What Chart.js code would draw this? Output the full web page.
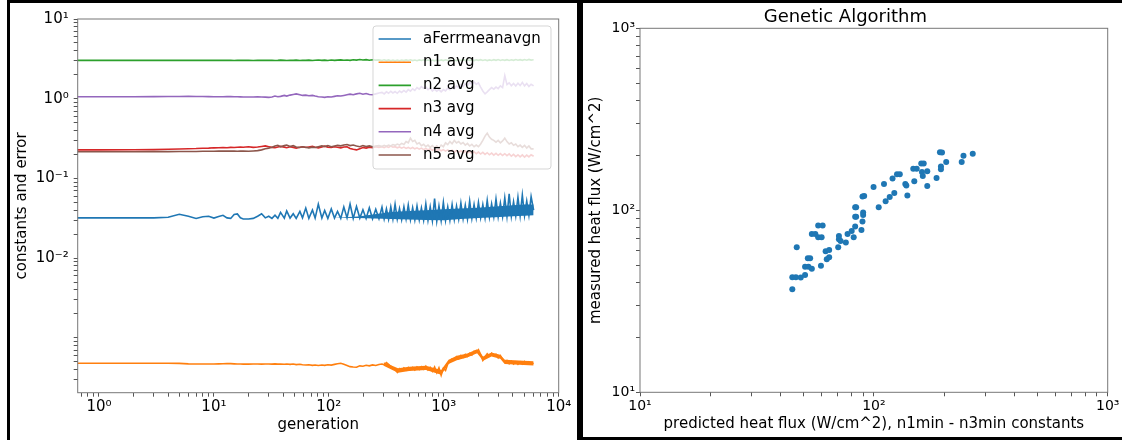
<!DOCTYPE html>
<html>
<head>
<meta charset="utf-8">
<script src="https://cdn.jsdelivr.net/npm/chart.js@4.4.0/dist/chart.umd.min.js"></script>
<style>
  html, body { margin: 0; padding: 0; background: #fff; }
  body { width: 1122px; height: 440px; position: relative; overflow: hidden; }
  .panel { position: absolute; box-sizing: border-box; border: 3px solid #000; }
  #leftPanel { left: 7px; top: 0; width: 573px; height: 470px; }
  #rightPanel { left: 580px; top: 0; width: 600px; height: 440px; }
  canvas { position: absolute; }
  #genChart { left: 10px; top: 3px; }
  #fluxChart { left: 583px; top: 3px; }
</style>
</head>
<body>
<div class="panel" id="leftPanel"></div>
<div class="panel" id="rightPanel"></div>
<canvas id="genChart" width="567" height="437"></canvas>
<canvas id="fluxChart" width="539" height="434"></canvas>
<script>
// generation numbers sampled along the run (shared by every left-hand series)
var generations = [
  0.5, 1, 2, 3, 4, 5, 6, 7, 8, 9,
  10, 11, 12, 13, 14, 15, 16, 17, 18, 20,
  22, 24, 26, 28, 30, 32, 34, 36, 38, 41,
  43, 46, 49, 52, 56, 59, 63, 67, 72, 76,
  81, 87, 92, 98, 105, 112, 119, 127, 135, 144,
  153, 163, 174, 186, 198, 211, 225, 240, 256, 273,
  290, 303, 317, 331, 346, 361, 377, 394, 412, 430,
  450, 470, 491, 513, 536, 560, 585, 612, 639, 668,
  698, 729, 762, 796, 832, 869, 908, 949, 992, 1036,
  1083, 1131, 1182, 1235, 1291, 1349, 1409, 1473, 1539, 1608,
  1680, 1756, 1835, 1917, 2003, 2093, 2187, 2286, 2388, 2496,
  2608, 2725, 2847, 2975, 3109, 3249, 3395, 3547, 3707, 3873,
  4047, 4229, 4420, 4618, 4826, 5043, 5270, 5506, 5754, 6050
];

var errAvg = [
  0.032, 0.032, 0.032, 0.032, 0.0325, 0.0355, 0.0335, 0.0315, 0.033, 0.0335,
  0.0318, 0.0332, 0.0345, 0.032, 0.0315, 0.0352, 0.0358, 0.032, 0.031, 0.031,
  0.0315, 0.0335, 0.036, 0.032, 0.0335, 0.0315, 0.0345, 0.0315, 0.0375, 0.0318,
  0.0392, 0.0318, 0.036, 0.0315, 0.0385, 0.032, 0.0425, 0.0315, 0.0402, 0.0318,
  0.0475, 0.0318, 0.0395, 0.0315, 0.0415, 0.0318, 0.0385, 0.0315, 0.0438, 0.032,
  0.0478, 0.0315, 0.0445, 0.0318, 0.0405, 0.0315, 0.0428, 0.0312, 0.041, 0.0312,
  0.0435, 0.031, 0.0415, 0.0308, 0.044, 0.031, 0.0475, 0.0308, 0.042, 0.0305,
  0.044, 0.031, 0.0465, 0.0305, 0.043, 0.0302, 0.045, 0.0302, 0.0425, 0.030,
  0.048, 0.0298, 0.044, 0.0295, 0.056, 0.0292, 0.045, 0.0295, 0.050, 0.0298,
  0.044, 0.030, 0.047, 0.0305, 0.045, 0.031, 0.049, 0.0312, 0.046, 0.031,
  0.052, 0.0315, 0.047, 0.032, 0.050, 0.0322, 0.047, 0.032, 0.053, 0.0325,
  0.048, 0.033, 0.055, 0.033, 0.049, 0.0332, 0.057, 0.0335, 0.064, 0.0335,
  0.051, 0.034, 0.058, 0.034, 0.062, 0.0342, 0.052, 0.0345, 0.059, 0.040
];

var n1Avg = [
  0.00048, 0.00048, 0.00048, 0.00048, 0.00048, 0.000478, 0.000472, 0.00047, 0.00047, 0.00047,
  0.00047, 0.000472, 0.000474, 0.000476, 0.000475, 0.000472, 0.00047, 0.00047, 0.000468, 0.000468,
  0.00047, 0.00047, 0.000468, 0.00047, 0.00047, 0.000468, 0.000472, 0.000468, 0.00047, 0.000466,
  0.00047, 0.000465, 0.000469, 0.000462, 0.000467, 0.00046, 0.000456, 0.00046, 0.000452, 0.000457,
  0.00045, 0.000456, 0.000452, 0.00046, 0.000455, 0.000465, 0.000472, 0.00048, 0.000465, 0.00045,
  0.000435, 0.00043, 0.000428, 0.000445, 0.00044, 0.000452, 0.000445, 0.000458, 0.00045, 0.000462,
  0.00047, 0.00046, 0.00049, 0.000465, 0.00044, 0.00042, 0.0004, 0.00037, 0.00041, 0.00039,
  0.00042, 0.000395, 0.000425, 0.0004, 0.000425, 0.000395, 0.00043, 0.0004, 0.000435, 0.000405,
  0.00044, 0.000395, 0.000425, 0.00038, 0.00043, 0.000365, 0.00042, 0.00034, 0.000415, 0.00039,
  0.00047, 0.00051, 0.000545, 0.00053, 0.00058, 0.000545, 0.0006, 0.00057, 0.00062, 0.000585,
  0.00064, 0.00061, 0.00068, 0.00066, 0.00071, 0.00062, 0.00052, 0.00058, 0.00063, 0.00059,
  0.00064, 0.0006, 0.00062, 0.00056, 0.0006, 0.00053, 0.00049, 0.00052, 0.000475, 0.00051,
  0.00047, 0.0005, 0.000465, 0.0005, 0.00047, 0.000505, 0.000475, 0.0005, 0.00047, 0.00048
];

var n2Avg = [
  3.03, 3.03, 3.03, 3.03, 3.03, 3.03, 3.03, 3.03, 3.03, 3.03,
  3.03, 3.03, 3.04, 3.03, 3.03, 3.02, 3.03, 3.03, 3.04, 3.03,
  3.02, 3.03, 3.04, 3.03, 3.03, 3.04, 3.02, 3.03, 3.05, 3.03,
  3.02, 3.04, 3.03, 3.05, 3.02, 3.04, 3.03, 3.05, 3.02, 3.04,
  3.06, 3.03, 3.05, 3.02, 3.06, 3.03, 3.05, 3.07, 3.04, 3.06,
  3.03, 3.08, 3.05, 3.10, 3.06, 3.09, 3.04, 3.08, 3.05, 3.07,
  3.02, 3.08, 3.01, 3.07, 3.00, 3.06, 2.99, 3.05, 3.00, 3.06,
  3.01, 3.07, 3.02, 3.08, 3.01, 3.06, 3.00, 3.07, 3.02, 3.08,
  3.01, 3.06, 3.00, 3.05, 2.99, 3.06, 3.00, 3.07, 3.01, 3.08,
  3.02, 3.07, 3.00, 3.06, 3.01, 3.08, 3.02, 3.09, 3.03, 3.08,
  3.02, 3.07, 3.01, 3.08, 3.03, 3.09, 3.02, 3.08, 3.01, 3.07,
  3.02, 3.09, 3.03, 3.10, 3.02, 3.08, 3.03, 3.09, 3.02, 3.08,
  3.03, 3.10, 3.04, 3.09, 3.03, 3.10, 3.04, 3.11, 3.05, 3.08
];

var n3Avg = [
  0.228, 0.228, 0.229, 0.23, 0.232, 0.234, 0.236, 0.237, 0.239, 0.24,
  0.242, 0.243, 0.244, 0.243, 0.245, 0.244, 0.246, 0.247, 0.246, 0.25,
  0.245, 0.248, 0.252, 0.256, 0.25, 0.245, 0.243, 0.248, 0.252, 0.247,
  0.243, 0.25, 0.245, 0.24, 0.246, 0.25, 0.244, 0.248, 0.252, 0.246,
  0.242, 0.248, 0.254, 0.247, 0.244, 0.25, 0.246, 0.242, 0.248, 0.25,
  0.238, 0.232, 0.228, 0.236, 0.244, 0.24, 0.247, 0.243, 0.25, 0.245,
  0.25, 0.243, 0.252, 0.245, 0.254, 0.246, 0.25, 0.242, 0.248, 0.24,
  0.247, 0.238, 0.245, 0.236, 0.244, 0.235, 0.242, 0.233, 0.24, 0.23,
  0.238, 0.228, 0.236, 0.226, 0.234, 0.224, 0.232, 0.222, 0.23, 0.22,
  0.228, 0.218, 0.226, 0.215, 0.224, 0.213, 0.222, 0.21, 0.22, 0.208,
  0.218, 0.206, 0.216, 0.204, 0.214, 0.202, 0.212, 0.2, 0.21, 0.198,
  0.208, 0.196, 0.206, 0.195, 0.205, 0.194, 0.204, 0.193, 0.203, 0.19,
  0.2, 0.188, 0.198, 0.186, 0.197, 0.185, 0.196, 0.186, 0.198, 0.19
];

var n4Avg = [
  1.06, 1.06, 1.06, 1.062, 1.065, 1.068, 1.07, 1.068, 1.065, 1.063,
  1.06, 1.058, 1.06, 1.062, 1.065, 1.06, 1.058, 1.055, 1.052, 1.05,
  1.052, 1.055, 1.05, 1.048, 1.04, 1.05, 1.08, 1.06, 1.07, 1.1,
  1.08, 1.11, 1.13, 1.15, 1.12, 1.1, 1.11, 1.09, 1.1, 1.08,
  1.06, 1.05, 1.04, 1.06, 1.05, 1.07, 1.09, 1.08, 1.1, 1.12,
  1.14, 1.12, 1.15, 1.17, 1.14, 1.16, 1.13, 1.12, 1.15, 1.18,
  1.2, 1.15, 1.22, 1.17, 1.24, 1.18, 1.23, 1.17, 1.25, 1.2,
  1.27, 1.21, 1.3, 1.24, 1.33, 1.27, 1.38, 1.32, 1.42, 1.35,
  1.4, 1.3, 1.36, 1.25, 1.32, 1.24, 1.3, 1.22, 1.3, 1.25,
  1.36, 1.3, 1.4, 1.33, 1.45, 1.38, 1.5, 1.42, 1.55, 1.46,
  1.6, 1.5, 1.62, 1.52, 1.58, 1.4, 1.25, 1.15, 1.22, 1.3,
  1.38, 1.32, 1.4, 1.34, 1.45, 1.38, 1.95, 1.5, 1.58, 1.45,
  1.55, 1.44, 1.56, 1.46, 1.6, 1.45, 1.55, 1.42, 1.52, 1.45
];

var n5Avg = [
  0.216, 0.216, 0.216, 0.217, 0.217, 0.218, 0.218, 0.218, 0.219, 0.219,
  0.219, 0.22, 0.22, 0.22, 0.221, 0.22, 0.219, 0.22, 0.22, 0.219,
  0.221, 0.223, 0.228, 0.235, 0.24, 0.246, 0.255, 0.26, 0.25, 0.258,
  0.262, 0.252, 0.258, 0.248, 0.244, 0.25, 0.246, 0.242, 0.247, 0.244,
  0.25, 0.256, 0.252, 0.258, 0.25, 0.255, 0.26, 0.256, 0.262, 0.266,
  0.258, 0.262, 0.255, 0.25, 0.258, 0.252, 0.256, 0.25, 0.255, 0.258,
  0.252, 0.26, 0.254, 0.262, 0.256, 0.266, 0.26, 0.27, 0.262, 0.275,
  0.266, 0.29, 0.28, 0.32, 0.29, 0.3, 0.27, 0.28, 0.258, 0.268,
  0.25, 0.262, 0.245, 0.258, 0.242, 0.256, 0.24, 0.262, 0.25, 0.28,
  0.265, 0.29, 0.272, 0.3, 0.278, 0.29, 0.27, 0.282, 0.262, 0.275,
  0.255, 0.268, 0.25, 0.262, 0.25, 0.27, 0.3, 0.34, 0.37, 0.33,
  0.31, 0.3, 0.285, 0.3, 0.28, 0.295, 0.32, 0.29, 0.27, 0.28,
  0.26, 0.27, 0.25, 0.262, 0.245, 0.26, 0.24, 0.255, 0.235, 0.235
];

// envelope of the dense part of the noisy traces (too many generations to show one by one)
var errBandGen  = [110, 180, 250, 350, 500, 700, 1000, 1400, 2000, 2800, 4000, 5000, 6050];
var errBandLow  = [0.032, 0.0318, 0.0315, 0.031, 0.0305, 0.030, 0.0298, 0.031, 0.0318, 0.0325, 0.0335, 0.034, 0.0345];
var errBandHigh = [0.0322, 0.0332, 0.0355, 0.038, 0.039, 0.040, 0.041, 0.042, 0.043, 0.0445, 0.046, 0.047, 0.047];

var n1BandGen  = [300, 400, 500, 700, 950, 1100, 1300, 1600, 1950, 2200, 2600, 3100, 3400, 4500, 6050];
var n1BandLow  = [0.000445, 0.000365, 0.000385, 0.000395, 0.000345, 0.00047, 0.000525, 0.000565, 0.00064, 0.000515, 0.000585, 0.000545, 0.00047, 0.00046, 0.00045];
var n1BandHigh = [0.000495, 0.000415, 0.000435, 0.000445, 0.000395, 0.00053, 0.000595, 0.000635, 0.00072, 0.000585, 0.000655, 0.000615, 0.00053, 0.00052, 0.00051];

var seriesNames = ['aFerrmeanavgn', 'n1 avg', 'n2 avg', 'n3 avg', 'n4 avg', 'n5 avg'];
var seriesValues = [errAvg, n1Avg, n2Avg, n3Avg, n4Avg, n5Avg];
var seriesColors = ['#1f77b4', '#ff7f0e', '#2ca02c', '#d62728', '#9467bd', '#8c564b'];

// scatter: predicted vs measured heat flux (W/cm^2)
var predictedFlux = [
  44.8, 44.8, 46.4, 46.8, 48.7, 50.8, 50.8, 52.5, 54.3, 52.2,
  53.4, 54.3, 56.2, 57.8, 57.8, 60.4, 59.8, 59.4, 62.2, 64.4,
  62.9, 64.4, 70.4, 70.9, 70.9, 72.1, 75.9, 77.2, 80.4, 82.0,
  83.2, 83.2, 83.2, 84.0, 84.0, 88.5, 89.4, 90.0, 90.0, 89.4,
  90.9, 99.7, 104.9, 110.5, 112.3, 116.9, 120.2, 122.3, 125.6, 129.1,
  136.3, 137.7, 139.1, 148.9, 147.4, 152.5, 159.5, 163.4, 160.6, 161.9,
  169.2, 169.2, 185.4, 191.7, 195.6, 193.6, 193.6, 203.9, 237.5, 241.7,
  264.8
];
var measuredFlux = [
  36.8, 42.9, 42.9, 62.7, 42.8, 44.1, 49.0, 49.0, 47.7, 54.5,
  54.5, 74.1, 74.1, 71.1, 82.4, 82.4, 71.1, 49.6, 59.5, 60.5,
  53.8, 55.2, 62.7, 69.3, 72.3, 67.9, 66.6, 74.1, 76.9, 71.1,
  81.4, 92.3, 103.8, 103.8, 92.3, 77.9, 86.7, 94.2, 97.4, 118.9,
  119.9, 134.4, 103.8, 139.6, 112.0, 118.3, 149.3, 124.4, 157.8, 157.8,
  139.6, 136.8, 120.5, 144.3, 169.3, 169.3, 180.5, 180.5, 162.6, 154.4,
  163.7, 136.2, 150.7, 208.5, 207.6, 173.8, 168.0, 184.4, 184.4, 199.1,
  204.7
];

// which decades get a 10^n label
var genXPowers = [0, 1, 2, 3, 4];
var genYPowers = [1, 0, -1, -2];
var fluxPowers = [1, 2, 3];
var minorSteps = [2, 3, 4, 5, 6, 7, 8, 9];

Chart.defaults.font.family = '"DejaVu Sans", sans-serif';
Chart.defaults.color = '#000';

var supDigits = { '-': '\u207b', '0': '\u2070', '1': '\u00b9', '2': '\u00b2', '3': '\u00b3', '4': '\u2074' };

function logTicks(min, max) {
  var out = [];
  var lo = Math.floor(Math.log10(min)), hi = Math.ceil(Math.log10(max));
  for (var e = lo; e <= hi; e++) {
    var base = Math.pow(10, e);
    [1].concat(minorSteps).forEach(function (m) {
      var v = m * base;
      if (v >= min * 0.999 && v <= max * 1.001) out.push({ value: v, major: m === 1 });
    });
  }
  return out;
}

function powerLabel(powers) {
  return function (value, index, ticks) {
    if (!ticks[index].major) return '';
    var e = Math.round(Math.log10(value));
    if (powers.indexOf(e) < 0) return '';
    return '10' + String(e).split('').map(function (c) { return supDigits[c]; }).join('');
  };
}

function logAxis(opts) {
  return {
    type: 'logarithmic',
    min: opts.min,
    max: opts.max,
    afterBuildTicks: function (s) { s.ticks = logTicks(s.min, s.max); },
    afterFit: opts.fit,
    ticks: { autoSkip: false, maxRotation: 0, padding: opts.pad, font: { size: opts.tickSize }, callback: powerLabel(opts.powers) },
    grid: { drawOnChartArea: false, tickLength: 4, color: '#555' },
    border: { display: false },
    title: { display: true, text: opts.title, font: { size: 15 }, padding: opts.titlePad }
  };
}

// matplotlib-like full box around the plot area
var framePlugin = {
  id: 'frame',
  afterDatasetsDraw: function (chart) {
    var a = chart.chartArea, ctx = chart.ctx;
    ctx.save();
    ctx.strokeStyle = '#777';
    ctx.lineWidth = 1;
    ctx.strokeRect(a.left, a.top, a.right - a.left, a.bottom - a.top);
    ctx.restore();
  }
};

// semi transparent legend box in the upper right corner
var boxLegend = {
  id: 'boxLegend',
  afterDraw: function (chart) {
    var a = chart.chartArea, ctx = chart.ctx;
    var w = 178, h = 143;
    var x = a.right - 7.7 - w, y = a.top + 7;
    ctx.save();
    ctx.beginPath();
    if (ctx.roundRect) ctx.roundRect(x, y, w, h, 3); else ctx.rect(x, y, w, h);
    ctx.fillStyle = 'rgba(255,255,255,0.8)';
    ctx.fill();
    ctx.strokeStyle = 'rgba(204,204,204,0.8)';
    ctx.lineWidth = 1;
    ctx.stroke();
    ctx.font = '15px "DejaVu Sans"';
    ctx.textBaseline = 'middle';
    chart.data.datasets.filter(function (ds) {
      return seriesNames.indexOf(ds.label) >= 0;
    }).forEach(function (ds, i) {
      var ry = y + 13 + i * 23.2;
      ctx.strokeStyle = ds.borderColor;
      ctx.lineWidth = 1.6;
      ctx.beginPath();
      ctx.moveTo(x + 5.6, ry);
      ctx.lineTo(x + 38, ry);
      ctx.stroke();
      ctx.fillStyle = '#000';
      ctx.fillText(ds.label, x + 50, ry);
    });
    ctx.restore();
  }
};

var lineSets = seriesNames.map(function (name, i) {
  return {
    label: name,
    data: generations.map(function (g, k) { return { x: g, y: seriesValues[i][k] }; }),
    borderColor: seriesColors[i],
    backgroundColor: seriesColors[i],
    borderWidth: 1.6,
    pointRadius: 0,
    tension: 0,
    order: seriesNames.length - i
  };
});

function bandSet(label, xs, ys, color, fillTo) {
  return {
    label: label,
    data: xs.map(function (g, k) { return { x: g, y: ys[k] }; }),
    borderColor: color,
    backgroundColor: color,
    borderWidth: 0,
    pointRadius: 0,
    tension: 0,
    fill: fillTo === undefined ? false : { target: fillTo },
    order: 20
  };
}

// indices 6..9 follow the six named series
lineSets.push(bandSet('errBandLow', errBandGen, errBandLow, '#1f77b4'));
lineSets.push(bandSet('errBandHigh', errBandGen, errBandHigh, '#1f77b4', 6));
lineSets.push(bandSet('n1BandLow', n1BandGen, n1BandLow, '#ff7f0e'));
lineSets.push(bandSet('n1BandHigh', n1BandGen, n1BandHigh, '#ff7f0e', 8));

new Chart(document.getElementById('genChart'), {
  type: 'line',
  data: { datasets: lineSets },
  options: {
    responsive: false,
    animation: false,
    devicePixelRatio: 1,
    layout: { padding: { left: 0, top: 16, right: 18.3, bottom: 0 } },
    plugins: { legend: { display: false }, tooltip: { enabled: false } },
    scales: {
      x: logAxis({ min: 0.653, max: 10000, powers: genXPowers, tickSize: 15, pad: 1,
        title: 'generation', titlePad: { top: 0, bottom: 6 },
        fit: function (s) { s.height = 47.3; } }),
      y: logAxis({ min: 0.000205, max: 10, powers: genYPowers, tickSize: 15, pad: 5,
        title: 'constants and error', titlePad: { top: 3, bottom: 0 },
        fit: function (s) { s.width = 67.7; } })
    }
  },
  plugins: [framePlugin, boxLegend]
});

new Chart(document.getElementById('fluxChart'), {
  type: 'scatter',
  data: {
    datasets: [{
      label: 'measured vs predicted',
      data: predictedFlux.map(function (p, k) { return { x: p, y: measuredFlux[k] }; }),
      backgroundColor: '#1f77b4',
      borderWidth: 0,
      pointRadius: 3
    }]
  },
  options: {
    responsive: false,
    animation: false,
    devicePixelRatio: 1,
    layout: { padding: { left: 0, top: 0, right: 14.3, bottom: 0 } },
    plugins: {
      legend: { display: false },
      tooltip: { enabled: false },
      title: { display: true, text: 'Genetic Algorithm', color: '#000',
        font: { size: 18, weight: 'normal' }, padding: { top: 3.2, bottom: 0.5 } }
    },
    scales: {
      x: logAxis({ min: 10, max: 1000, powers: fluxPowers, tickSize: 14, pad: 1.6,
        title: 'predicted heat flux (W/cm^2), n1min - n3min constants', titlePad: { top: 0, bottom: 4 },
        fit: function (s) { s.height = 44.7; } }),
      y: logAxis({ min: 10, max: 1000, powers: fluxPowers, tickSize: 14, pad: 1,
        title: 'measured heat flux (W/cm^2)', titlePad: { top: 4.5, bottom: 0 },
        fit: function (s) { s.width = 57; } })
    }
  },
  plugins: [framePlugin]
});
</script>
</body>
</html>
